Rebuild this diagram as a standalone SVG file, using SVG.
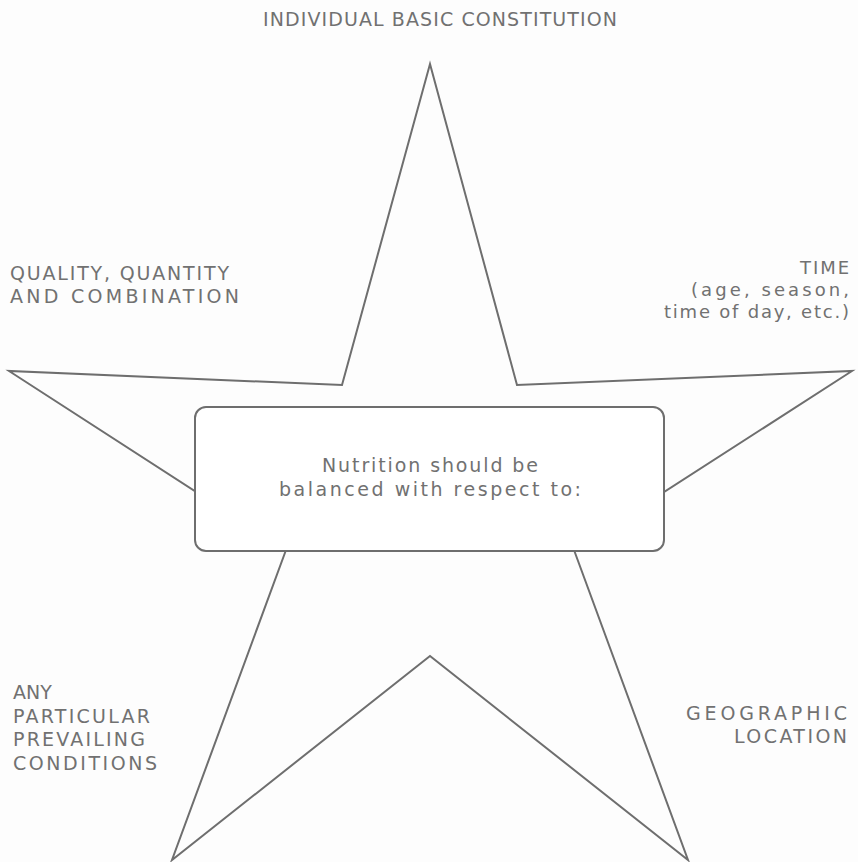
<svg xmlns="http://www.w3.org/2000/svg" width="858" height="862" viewBox="0 0 858 862">
<style>
.lbl{font-family:"DejaVu Sans","Liberation Sans",sans-serif;font-size:19px;fill:#717171;}
.sm{font-size:18px}
.mid{text-anchor:middle}
.end{text-anchor:end}
.ln{fill:none;stroke:#6e6e6e;stroke-width:2;stroke-linejoin:miter}
</style>
<rect width="858" height="862" fill="#fdfdfd"/>
<g id="connectors">
<polygon class="ln" points="430,64 517,385 852,371 574,550 688,860 430,656 172,860 286,550 9,371 342,385"/>
</g>
<g id="center">
<rect x="195" y="407" width="469" height="144" rx="11" fill="#ffffff" stroke="#6e6e6e" stroke-width="2"/>
<text class="lbl mid" x="430" y="472" textLength="216" lengthAdjust="spacing">Nutrition should be</text>
<text class="lbl mid" x="430" y="496" textLength="302" lengthAdjust="spacing">balanced with respect to:</text>
</g>
<g id="top">
<text class="lbl mid" x="440" y="26" textLength="354" lengthAdjust="spacing">INDIVIDUAL BASIC CONSTITUTION</text>
</g>
<g id="left">
<text class="lbl" x="10" y="280" textLength="219" lengthAdjust="spacing">QUALITY, QUANTITY</text>
<text class="lbl" x="10" y="303" textLength="229" lengthAdjust="spacing">AND COMBINATION</text>
</g>
<g id="right">
<text class="lbl sm end" x="849" y="274" textLength="49" lengthAdjust="spacing">TIME</text>
<text class="lbl sm end" x="849" y="296" textLength="158" lengthAdjust="spacing">(age, season,</text>
<text class="lbl sm end" x="849" y="318" textLength="185" lengthAdjust="spacing">time of day, etc.)</text>
</g>
<g id="bottomleft">
<text class="lbl" x="13" y="699">ANY</text>
<text class="lbl" x="13" y="723" textLength="137" lengthAdjust="spacing">PARTICULAR</text>
<text class="lbl" x="13" y="746" textLength="132" lengthAdjust="spacing">PREVAILING</text>
<text class="lbl" x="13" y="770" textLength="144" lengthAdjust="spacing">CONDITIONS</text>
</g>
<g id="bottomright">
<text class="lbl end" x="847" y="720" textLength="161" lengthAdjust="spacing">GEOGRAPHIC</text>
<text class="lbl end" x="847" y="743" textLength="113" lengthAdjust="spacing">LOCATION</text>
</g>
</svg>
